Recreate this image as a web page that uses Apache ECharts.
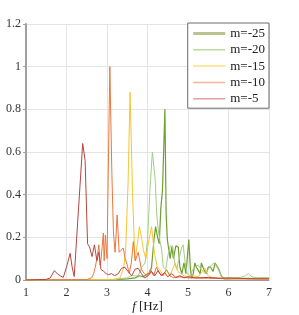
<!DOCTYPE html>
<html><head><meta charset="utf-8">
<script src="https://cdn.jsdelivr.net/npm/echarts@6/dist/echarts.min.js"></script>
<style>html,body{margin:0;padding:0;background:#fff}#c{width:299px;height:315px}</style>
</head><body><div id="c"></div>
<script>
var seriesNames = ['m=-25', 'm=-20', 'm=-15', 'm=-10', 'm=-5'];
var xTicks = [1, 2, 3, 4, 5, 6, 7];
var yTicks = [0, 0.2, 0.4, 0.6, 0.8, 1, 1.2];

var m25 = [[1,0],[3.2,0.002],[3.5,0.005],[3.7,0.01],[3.8,0.02],[3.9,0.015],[4.0,0.03],[4.05,0.03],[4.1,0.06],[4.16,0.19],[4.20,0.25],[4.25,0.2],[4.29,0.17],[4.33,0.34],[4.37,0.42],[4.43,0.80],[4.46,0.31],[4.49,0.19],[4.52,0.15],[4.56,0.1],[4.60,0.155],[4.64,0.1],[4.70,0.16],[4.76,0.155],[4.80,0.06],[4.85,0.03],[4.90,0.08],[4.95,0.03],[5.02,0.19],[5.06,0.05],[5.09,0.008],[5.13,0.03],[5.17,0.08],[5.21,0.06],[5.25,0.06],[5.30,0.03],[5.33,0.08],[5.39,0.05],[5.45,0.03],[5.5,0.06],[5.56,0.06],[5.62,0.04],[5.67,0.08],[5.71,0.08],[5.76,0.05],[5.82,0.02],[5.89,0.005],[6.2,0.006],[6.5,0.008],[6.8,0.006],[7,0.008]];
var m20 = [[1,0],[3.0,0.002],[3.3,0.005],[3.5,0.01],[3.6,0.02],[3.7,0.02],[3.77,0.02],[3.86,0.06],[3.94,0.08],[4.0,0.19],[4.06,0.42],[4.12,0.60],[4.19,0.47],[4.23,0.30],[4.27,0.23],[4.31,0.18],[4.35,0.14],[4.39,0.06],[4.45,0.05],[4.51,0.12],[4.56,0.16],[4.62,0.16],[4.67,0.08],[4.72,0.05],[4.78,0.1],[4.84,0.15],[4.88,0.165],[4.93,0.08],[4.98,0.03],[5.05,0.02],[5.12,0.05],[5.17,0.06],[5.25,0.07],[5.32,0.05],[5.42,0.03],[5.5,0.05],[5.58,0.07],[5.65,0.08],[5.72,0.06],[5.82,0.02],[5.9,0.008],[6.1,0.01],[6.3,0.012],[6.42,0.02],[6.49,0.03],[6.58,0.015],[6.7,0.01],[6.85,0.012],[7,0.01]];
var m15 = [[1,0],[3.2,0.002],[3.32,0.01],[3.41,0.055],[3.46,0.14],[3.52,0.45],[3.57,0.88],[3.63,0.41],[3.69,0.09],[3.75,0.17],[3.80,0.25],[3.86,0.19],[3.90,0.14],[3.96,0.1],[4.02,0.17],[4.10,0.25],[4.17,0.13],[4.24,0.06],[4.3,0.05],[4.38,0.02],[4.47,0.05],[4.55,0.02],[4.62,0.05],[4.68,0.08],[4.75,0.04],[4.82,0.03],[4.9,0.02],[5.0,0.015],[5.1,0.02],[5.25,0.015],[5.42,0.055],[5.5,0.02],[5.6,0.01],[6,0.008],[7,0.006]];
var m10 = [[1,0],[2.5,0.002],[2.62,0.01],[2.67,0.03],[2.71,0.06],[2.74,0.09],[2.77,0.125],[2.80,0.165],[2.83,0.07],[2.85,0.09],[2.88,0.155],[2.91,0.22],[2.93,0.09],[2.96,0.21],[3.0,0.1],[3.07,1.0],[3.12,0.5],[3.16,0.22],[3.20,0.13],[3.25,0.305],[3.30,0.13],[3.35,0.14],[3.40,0.15],[3.45,0.1],[3.50,0.07],[3.55,0.03],[3.60,0.08],[3.65,0.18],[3.70,0.09],[3.77,0.13],[3.85,0.05],[3.92,0.03],[4.0,0.02],[4.07,0.05],[4.15,0.02],[4.22,0.06],[4.3,0.03],[4.38,0.02],[4.47,0.047],[4.55,0.02],[4.65,0.01],[4.8,0.015],[5,0.01],[5.5,0.008],[6,0.006],[7,0.005]];
var m5 = [[1,0],[1.5,0.003],[1.6,0.01],[1.7,0.044],[1.78,0.028],[1.86,0.018],[1.92,0.012],[2.0,0.06],[2.09,0.125],[2.14,0.06],[2.19,0.016],[2.40,0.64],[2.46,0.56],[2.52,0.17],[2.57,0.155],[2.63,0.11],[2.69,0.165],[2.75,0.09],[2.80,0.13],[2.85,0.05],[2.92,0.04],[2.98,0.03],[3.04,0.025],[3.11,0.03],[3.19,0.02],[3.28,0.03],[3.36,0.055],[3.44,0.06],[3.52,0.04],[3.61,0.02],[3.69,0.05],[3.77,0.055],[3.85,0.03],[3.93,0.01],[4.02,0.02],[4.1,0.04],[4.18,0.02],[4.26,0.045],[4.34,0.02],[4.42,0.035],[4.5,0.015],[4.6,0.03],[4.7,0.012],[4.8,0.02],[4.9,0.01],[5.0,0.015],[5.2,0.01],[5.5,0.012],[5.8,0.008],[6.0,0.01],[6.5,0.006],[7,0.005]];

var seriesData = [m25, m20, m15, m10, m5];
var lineColors = ['#6f9e2f', '#a3cc87', '#f7c531', '#e9773d', '#b8453f'];
var legendColors = ['#b6c48e', '#b9dca0', '#fde6a0', '#f7b394', '#e0a2a2'];
var lineWidths = [1.2, 1, 1, 1, 1];
var legendWidths = [3, 1.5, 2, 1.5, 1.5];

var font = 'Liberation Serif';
var chart = echarts.init(document.getElementById('c'), null, {renderer: 'canvas'});
chart.setOption({
  animation: false,
  grid: {left: 26, right: 30, top: 24, bottom: 35, outerBoundsMode: 'none', containLabel: false},
  legend: {
    orient: 'vertical', right: 30, top: 23,
    backgroundColor: '#fff', borderColor: '#6b6b6b', borderWidth: 1,
    padding: [4, 4, 3, 4], itemWidth: 32, itemHeight: 10, itemGap: 3.3,
    textStyle: {fontFamily: font, fontSize: 13, color: '#222'},
    data: seriesNames.map(function (n, i) {
      return {name: n, itemStyle: {color: legendColors[i], opacity: 0}, lineStyle: {color: legendColors[i], width: legendWidths[i]}};
    })
  },
  xAxis: {
    type: 'value', min: xTicks[0], max: xTicks[xTicks.length - 1], interval: 1,
    name: '{i|f} [Hz]', nameLocation: 'middle', nameGap: 20, nameMoveOverlap: false,
    nameTextStyle: {fontFamily: font, fontSize: 13, color: '#222', verticalAlign: 'top', rich: {i: {fontFamily: font, fontStyle: 'italic', fontSize: 13, color: '#222'}}},
    axisLine: {show: true, lineStyle: {color: '#999', width: 1}},
    axisTick: {show: false},
    axisLabel: {fontFamily: font, fontSize: 12, color: '#333', margin: 7},
    splitLine: {show: true, lineStyle: {color: '#e4e4e4', width: 1}}
  },
  yAxis: {
    type: 'value', min: yTicks[0], max: yTicks[yTicks.length - 1], interval: 0.2,
    axisLine: {show: true, lineStyle: {color: '#a0a0a0', width: 2}},
    axisTick: {show: true, length: 3, lineStyle: {color: '#a0a0a0', width: 1}},
    axisLabel: {fontFamily: font, fontSize: 12, color: '#333', margin: 5,
      formatter: function (v) { return String(Math.round(v * 10) / 10); }},
    splitLine: {show: true, lineStyle: {color: '#e4e4e4', width: 1}}
  },
  series: seriesNames.map(function (n, i) {
    return {name: n, type: 'line', data: seriesData[i], symbol: 'none', showSymbol: false,
      lineStyle: {color: lineColors[i], width: lineWidths[i]}, itemStyle: {color: lineColors[i]}, z: 2 + i};
  })
});
</script></body></html>
